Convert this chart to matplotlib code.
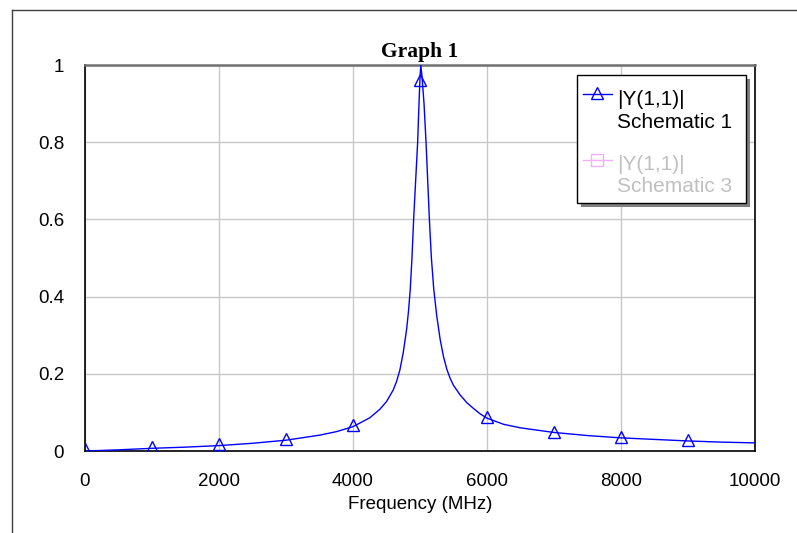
import numpy as np
import matplotlib
matplotlib.use("Agg")
import matplotlib.pyplot as plt
from matplotlib.lines import Line2D
from matplotlib.patches import Rectangle

# curve |Y(1,1)| Schematic 1
freq = [0, 500, 1000, 1500, 2000, 2500, 3000, 3500, 3750, 4000, 4250, 4400,
        4500, 4600, 4650, 4700, 4750, 4800, 4830, 4855, 4880, 4905, 4935,
        4965, 4985, 5000, 5012, 5030, 5060, 5090, 5115, 5140, 5170, 5205,
        5250, 5300, 5350, 5400, 5450, 5500, 5600, 5700, 5800, 5900, 6000,
        6250, 6500, 7000, 7500, 8000, 8500, 9000, 9500, 10000]
mag = [0.0, 0.003, 0.007, 0.010, 0.014, 0.020, 0.028, 0.041, 0.050, 0.063,
       0.086, 0.108, 0.128, 0.158, 0.18, 0.21, 0.255, 0.315, 0.365, 0.42,
       0.50, 0.60, 0.70, 0.80, 0.90, 0.965, 1.0, 0.97, 0.90, 0.80, 0.70,
       0.60, 0.50, 0.42, 0.35, 0.29, 0.245, 0.212, 0.188, 0.17, 0.145,
       0.125, 0.11, 0.096, 0.085, 0.069, 0.060, 0.048, 0.040, 0.034, 0.030,
       0.026, 0.023, 0.021]

# marker positions
mk_freq = [0, 1000, 2000, 3000, 4000, 5000, 6000, 7000, 8000, 9000]
mk_mag = [0.006, 0.011, 0.018, 0.032, 0.068, 0.962, 0.088, 0.050, 0.036, 0.028]

xticks = [0, 2000, 4000, 6000, 8000, 10000]
yticks = [0, 0.2, 0.4, 0.6, 0.8, 1]
ytick_labels = ["0", "0.2", "0.4", "0.6", "0.8", "1"]

plt.rcParams['font.family'] = ['Liberation Sans', 'DejaVu Sans']

W, H = 797, 533
fig = plt.figure(figsize=(W / 100, H / 100), dpi=100)
ax = fig.add_axes([85 / W, 1 - 451 / H, (755 - 85) / W, (451 - 65) / H])

ax.plot(freq, mag, color='#0000ff', lw=1.0, zorder=3)
ax.plot(mk_freq, mk_mag, ls='none', marker='^', ms=8, mfc='none',
        mec='#0000ff', mew=1.0, zorder=4)

ax.set_xlim(0, 10000)
ax.set_ylim(0, 1)
ax.set_xticks(xticks)
ax.set_xticklabels([str(t) for t in xticks])
ax.set_yticks(yticks)
ax.set_yticklabels(ytick_labels)
ax.tick_params(length=0, labelsize=13.5, pad=15)
ax.tick_params(axis='x', pad=16)
ax.grid(True, color='#c8c8c8', lw=1.0)
ax.set_axisbelow(True)
for s in ['left', 'bottom', 'right']:
    ax.spines[s].set_color('black')
    ax.spines[s].set_linewidth(1.2)
ax.spines['top'].set_color('#707070')
ax.spines['top'].set_linewidth(1.8)

ax.set_xlabel("Frequency (MHz)", fontsize=13.5, labelpad=4)
ax.set_title("Graph 1", fontsize=15.5, fontweight='bold',
             family='Liberation Serif', pad=6)


def fx(px):
    return px / W


def fy(py):
    return 1 - py / H


# legend box with shadow
lx0, ly0, lx1, ly1 = 577, 75, 746, 203
fig.patches.append(Rectangle((fx(lx0 + 4), fy(ly1 + 4)), (lx1 - lx0) / W,
                             (ly1 - ly0) / H, transform=fig.transFigure,
                             facecolor='#808080', edgecolor='none', zorder=5))
fig.patches.append(Rectangle((fx(lx0), fy(ly1)), (lx1 - lx0) / W,
                             (ly1 - ly0) / H, transform=fig.transFigure,
                             facecolor='white', edgecolor='black', lw=1.0,
                             zorder=6))

fig.add_artist(Line2D([fx(583), fx(612)], [fy(94)] * 2, color='#0000ff',
                      lw=1.0, zorder=7))
fig.add_artist(Line2D([fx(597)], [fy(93)], ls='none', marker='^', ms=8,
                      mfc='none', mec='#0000ff', zorder=7))
fig.text(fx(617), fy(105), "|Y(1,1)|", fontsize=15, va='baseline',
         color='black', zorder=7)
fig.text(fx(617), fy(128), "Schematic 1", fontsize=15, va='baseline',
         color='black', zorder=7)

fig.add_artist(Line2D([fx(583), fx(612)], [fy(160)] * 2, color='#f4b0f4',
                      lw=1.0, zorder=7))
fig.add_artist(Line2D([fx(597)], [fy(160)], ls='none', marker='s', ms=8,
                      mfc='none', mec='#f4b0f4', zorder=7))
fig.text(fx(617), fy(170), "|Y(1,1)|", fontsize=15, va='baseline',
         color='#c0c0c0', zorder=7)
fig.text(fx(617), fy(192), "Schematic 3", fontsize=15, va='baseline',
         color='#c0c0c0', zorder=7)

# outer frame
fig.add_artist(Line2D([fx(12), fx(12)], [0, fy(10)], color='#404040', lw=1.0))
fig.add_artist(Line2D([fx(12), 1], [fy(10), fy(10)], color='#404040', lw=1.0))

fig.savefig("out.png", dpi=100)
